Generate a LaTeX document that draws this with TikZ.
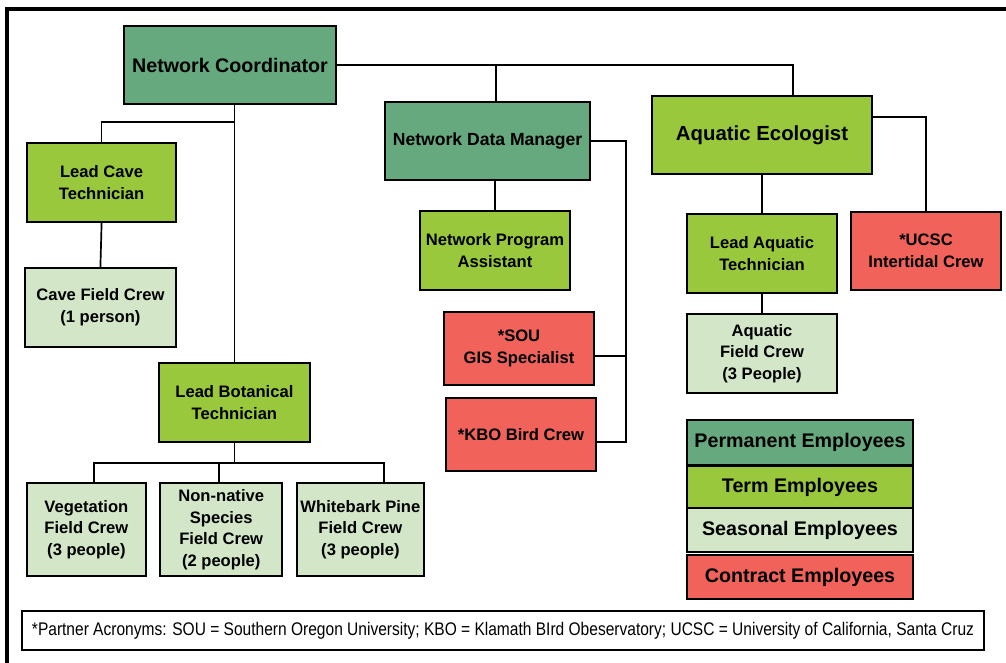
\documentclass[tikz,border=0pt]{standalone}
\usepackage{fontspec}
\setmainfont{Liberation Sans}
\newfontfamily\notefont{Liberation Sans}[FakeStretch=0.85]

\definecolor{permgreen}{HTML}{66A97F}
\definecolor{termgreen}{HTML}{9AC83C}
\definecolor{seasgreen}{HTML}{D3E7C8}
\definecolor{contrred}{HTML}{F0625A}

\begin{document}
\begin{tikzpicture}[
    unit/.style={draw, line width=1.3pt, align=center, inner sep=2pt,
      font=\bfseries\fontsize{11.8}{15.5}\selectfont},
    perm/.style={unit, fill=permgreen},
    term/.style={unit, fill=termgreen},
    seas/.style={unit, fill=seasgreen},
    contr/.style={unit, fill=contrred},
    big/.style={font=\bfseries\fontsize{#1}{#1}\selectfont},
    link/.style={line width=1.2pt}
  ]

  \useasboundingbox (0,0) rectangle (25.15,-16.575);

  % Cornice
  \draw[line width=2.5pt] (0.175,-16.7) -- (0.175,-0.225) -- (25.3,-0.225);

  % Personale permanente
  \node[perm, big=14, minimum width=5.3cm, minimum height=1.95cm] (coord) at (5.75,-1.625) {Network Coordinator};
  \node[perm, big=12.5, minimum width=5.13cm, minimum height=1.95cm] (datamgr) at (12.19,-3.525) {Network Data Manager};

  % Personale a termine
  \node[term, big=14.5, minimum width=5.5cm, minimum height=1.95cm] (ecol) at (19.05,-3.375) {Aquatic Ecologist};
  \node[term, minimum width=3.72cm, minimum height=1.97cm] (leadcave) at (2.54,-4.56) {Lead Cave\\Technician};
  \node[term, minimum width=3.78cm, minimum height=1.97cm] (leadbot) at (5.86,-10.06) {Lead Botanical\\Technician};
  \node[term, minimum width=3.75cm, minimum height=1.97cm] (progasst) at (12.375,-6.26) {Network Program\\Assistant};
  \node[term, minimum width=3.75cm, minimum height=1.97cm] (leadaqua) at (19.05,-6.34) {Lead Aquatic\\Technician};

  % Personale stagionale
  \node[seas, minimum width=3.78cm, minimum height=1.97cm] (cavecrew) at (2.51,-7.69) {Cave Field Crew\\(1 person)};
  \node[seas, minimum width=2.98cm, minimum height=2.33cm] (vegcrew) at (2.16,-13.24) {Vegetation\\Field Crew\\(3 people)};
  \node[seas, minimum width=3.05cm, minimum height=2.33cm] (nncrew) at (5.53,-13.24) {Non-native\\Species\\Field Crew\\(2 people)};
  \node[seas, minimum width=3.18cm, minimum height=2.33cm] (wbpcrew) at (9.01,-13.24) {Whitebark Pine\\Field Crew\\(3 people)};
  \node[seas, minimum width=3.75cm, minimum height=1.97cm] (aquacrew) at (19.05,-8.84) {Aquatic\\Field Crew\\(3 People)};

  % Partner a contratto
  \node[contr, minimum width=3.75cm, minimum height=1.83cm] (sougis) at (12.975,-8.71) {*SOU\\GIS Specialist};
  \node[contr, minimum width=3.75cm, minimum height=1.83cm] (kbobird) at (13.025,-10.86) {*KBO Bird Crew};
  \node[contr, minimum width=3.75cm, minimum height=1.95cm] (ucsc) at (23.15,-6.275) {*UCSC\\Intertidal Crew};

  % Legenda
  \node[perm, big=14, minimum width=5.65cm, minimum height=1.12cm] (keyperm) at (20,-11.06) {Permanent Employees};
  \node[term, big=14, minimum width=5.65cm, minimum height=1.05cm] (keyterm) at (20,-12.175) {Term Employees};
  \node[seas, big=14, line width=2pt, minimum width=5.65cm, minimum height=1.1cm] (keyseas) at (20,-13.25) {Seasonal Employees};
  \node[contr, big=14, minimum width=5.65cm, minimum height=1.1cm] (keycontr) at (20,-14.425) {Contract Employees};

  % Nota
  \node[draw, line width=1.3pt, minimum width=24.05cm, minimum height=0.975cm, font=\notefont\fontsize{13}{14}\selectfont] (note) at (12.575,-15.76)
    {*Partner Acronyms: SOU = Southern Oregon University; KBO = Klamath BIrd Obeservatory; UCSC = University of California, Santa Cruz};

  % Collegamenti
  \coordinate (botbus) at (5.86,-11.575);
  \coordinate (dmbus)  at (15.65,-11.05);
  \draw[link] (coord.east) -| ([xshift=0.775cm]ecol.north);
  \draw[link] ([xshift=0.21cm]datamgr.north) |- (coord.east);
  \draw[link] (coord.south -| leadbot.north) -- (leadbot.north);
  \draw[link] (leadcave.north) -- ++(0,0.5) -| (leadbot.north);
  \draw[link] (leadcave.south) -- (cavecrew.north);
  \draw[link] (leadbot.south) -- (botbus);
  \draw[link] ([xshift=0.19cm]vegcrew.north) |- (botbus);
  \draw[link] ([xshift=-0.05cm]nncrew.north) |- (botbus);
  \draw[link] ([xshift=0.59cm]wbpcrew.north) |- (botbus);
  \draw[link] (progasst.north |- datamgr.south) -- (progasst.north);
  \draw[link] (datamgr.east) -| (dmbus) -- ([yshift=-0.19cm]kbobird.east);
  \draw[link] ([yshift=-0.19cm]sougis.east) -- ([yshift=-0.19cm]sougis.east -| dmbus);
  \draw[link] (ecol.south) -- (leadaqua.north);
  \draw[link] (leadaqua.south) -- (aquacrew.north);
  \draw[link] ([yshift=0.45cm]ecol.east) -| (ucsc.north);

\end{tikzpicture}
\end{document}
